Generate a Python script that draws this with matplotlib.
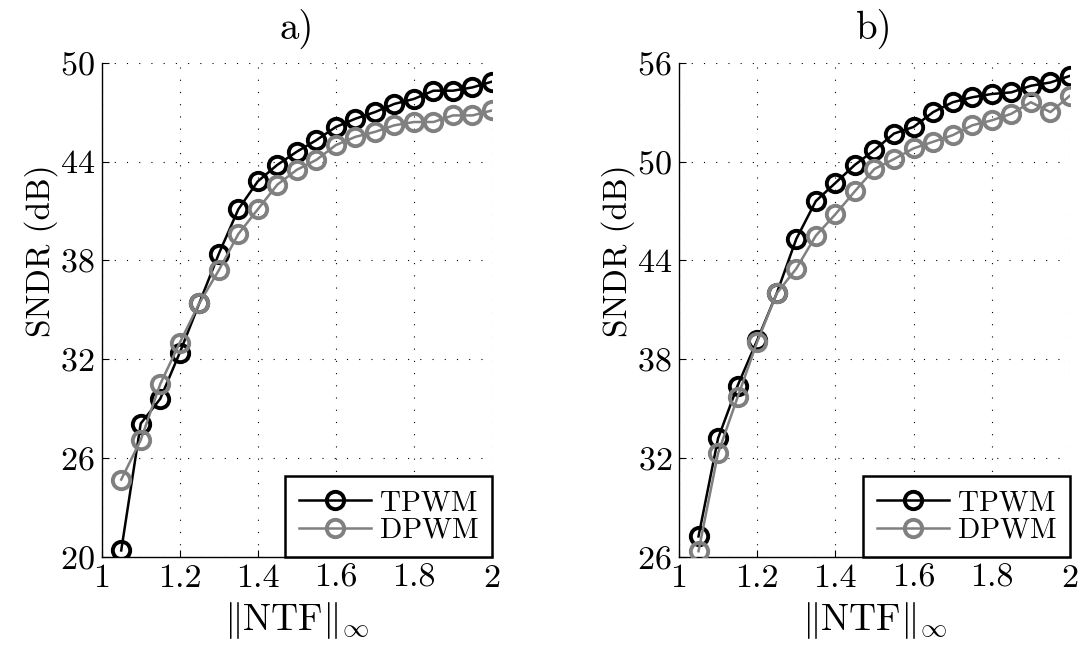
import matplotlib
matplotlib.use("Agg")
import matplotlib.pyplot as plt

# ---- data ----
ntf_inf = [1.05, 1.10, 1.15, 1.20, 1.25, 1.30, 1.35, 1.40, 1.45, 1.50,
           1.55, 1.60, 1.65, 1.70, 1.75, 1.80, 1.85, 1.90, 1.95, 2.00]

tpwm_a = [20.4, 28.1, 29.6, 32.4, 35.4, 38.4, 41.1, 42.8, 43.8, 44.6,
          45.3, 46.1, 46.6, 47.0, 47.5, 47.8, 48.3, 48.3, 48.5, 48.85]
dpwm_a = [24.7, 27.1, 30.5, 33.0, 35.4, 37.4, 39.6, 41.1, 42.6, 43.5,
          44.1, 45.0, 45.5, 45.8, 46.2, 46.4, 46.4, 46.8, 46.8, 47.1]

tpwm_b = [27.25, 33.2, 36.4, 39.15, 42.0, 45.3, 47.6, 48.7, 49.8, 50.7,
          51.7, 52.1, 53.0, 53.6, 53.9, 54.1, 54.2, 54.6, 54.8, 55.2]
dpwm_b = [26.35, 32.3, 35.7, 39.05, 42.0, 43.5, 45.5, 46.8, 48.2, 49.55,
          50.15, 50.8, 51.2, 51.6, 52.2, 52.5, 52.9, 53.6, 53.0, 54.0]

xticks = [1, 1.2, 1.4, 1.6, 1.8, 2]
xtick_labels = ["1", "1.2", "1.4", "1.6", "1.8", "2"]
yticks_a = [20, 26, 32, 38, 44, 50]
yticks_b = [26, 32, 38, 44, 50, 56]
titles = ["a)", "b)"]

# ---- style ----
plt.rcParams["font.family"] = "serif"
plt.rcParams["font.serif"] = ["cmr10", "DejaVu Serif"]
plt.rcParams["mathtext.fontset"] = "cm"
plt.rcParams["axes.formatter.use_mathtext"] = True

GRAY = "#808080"

fig = plt.figure(figsize=(10.82, 6.53), dpi=100)
ax_a = fig.add_axes([0.094, 0.147, 0.3607, 0.757])
ax_b = fig.add_axes([0.6275, 0.147, 0.3614, 0.757])

panels = [(ax_a, tpwm_a, dpwm_a, yticks_a), (ax_b, tpwm_b, dpwm_b, yticks_b)]

for i, (ax, tp, dp, yt) in enumerate(panels):
    ax.plot(ntf_inf, tp, "-o", color="black", lw=1.8, ms=12.5, mew=2.8,
            fillstyle="none", label="TPWM", zorder=3)
    ax.plot(ntf_inf, dp, "-o", color=GRAY, lw=1.8, ms=12.5, mew=2.8,
            fillstyle="none", label="DPWM", zorder=4)

    ax.set_xlim(1, 2)
    ax.set_ylim(yt[0], yt[-1])
    ax.set_xticks(xticks)
    ax.set_xticklabels(xtick_labels)
    ax.set_yticks(yt)
    ax.tick_params(direction="in", length=5, width=0.8, labelsize=24.5, pad=5)

    # matlab-ish: box off, dotted grid
    ax.spines["top"].set_visible(False)
    ax.spines["right"].set_visible(False)
    ax.spines["left"].set_linewidth(1.0)
    ax.spines["bottom"].set_linewidth(1.0)
    ax.grid(True, linestyle=(0, (1, 10)), color="black", lw=0.8)
    ax.set_axisbelow(True)

    ax.set_title(titles[i], fontsize=28, pad=17)
    ax.set_ylabel("SNDR (dB)", fontsize=24)
    ax.yaxis.set_label_coords(-0.113, 0.62)
    ax.set_xlabel(r"$\|\mathrm{NTF}\|_\infty$", fontsize=27, labelpad=5)

    leg = ax.legend(loc="lower right", fontsize=21, fancybox=False,
                    framealpha=1, edgecolor="black", borderaxespad=0,
                    handlelength=2.5, handletextpad=0.3, borderpad=0.45,
                    labelspacing=0.05)
    leg.get_frame().set_linewidth(1.8)

fig.savefig("out.png", dpi=100)
